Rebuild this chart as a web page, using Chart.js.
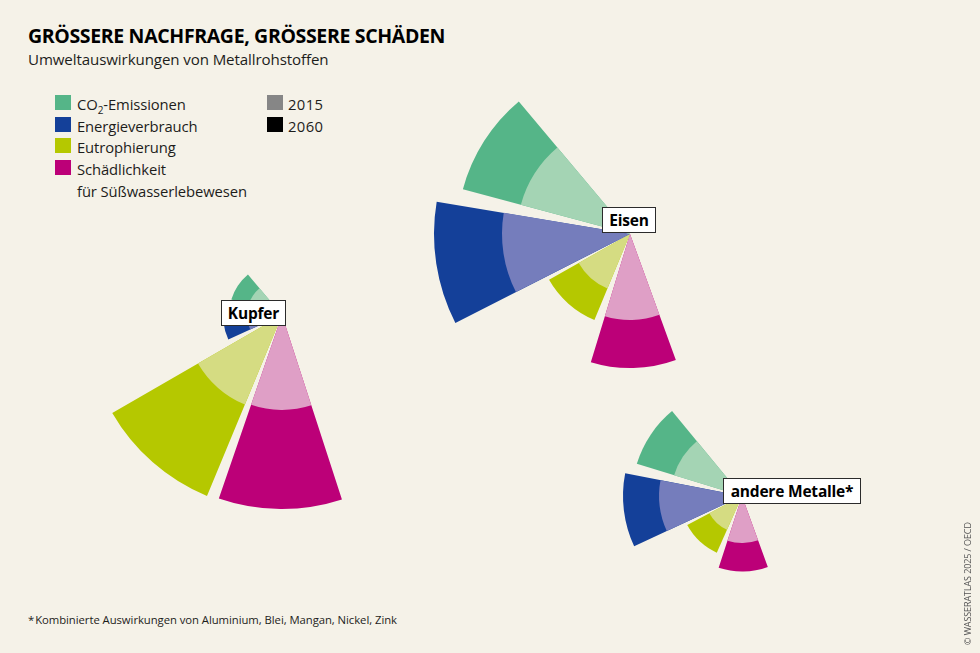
<!DOCTYPE html>
<html lang="de">
<head>
<meta charset="utf-8">
<title>Grössere Nachfrage, grössere Schäden</title>
<script src="https://cdn.jsdelivr.net/npm/chart.js@4"></script>
<style>
    html, body { margin: 0; padding: 0; background: #f5f2e8; }
    body { position: relative; width: 980px; height: 653px; overflow: hidden; font-family: 'Open Sans', sans-serif; color: #1d1d1b; }
    .abs { position: absolute; white-space: nowrap; }
    canvas { position: absolute; pointer-events: none; }
    #title { left: 28px; top: 22px; font-size: 19.5px; line-height: 28px; font-weight: 700; color: #000; letter-spacing: -0.35px; }
    #subtitle { left: 28px; top: 49px; font-size: 15.1px; line-height: 20px; letter-spacing: -0.1px; }
    .swatch { position: absolute; width: 16px; height: 15px; }
    .leg { font-size: 14.8px; line-height: 20px; letter-spacing: -0.1px; }
    .leg sub { font-size: 10px; line-height: 0; }
    .tag { position: absolute; box-sizing: border-box; height: 26px; line-height: 24px; background: #fff; border: 1.5px solid #2b2b2b; font-weight: 700; font-size: 15.5px; color: #000; text-align: center; white-space: nowrap; letter-spacing: -0.2px; }
    #note { left: 28px; top: 611px; font-size: 11.3px; line-height: 18px; letter-spacing: -0.05px; }
    #note span { margin-right: 1px; }
    #source { left: 962px; top: 645px; font-size: 9px; line-height: 12px; color: #555; transform-origin: 0 0; transform: rotate(-90deg); letter-spacing: -0.1px; }
</style>
</head>
<body>

<div class="abs" id="title">GRÖSSERE NACHFRAGE, GRÖSSERE SCHÄDEN</div>
<div class="abs" id="subtitle">Umweltauswirkungen von Metallrohstoffen</div>

<div class="swatch" style="left:55px;top:95px;background:#55b588"></div>
<div class="abs leg" style="left:77px;top:94px">CO<sub>2</sub>-Emissionen</div>
<div class="swatch" style="left:55px;top:117px;background:#144099"></div>
<div class="abs leg" style="left:77px;top:116px">Energieverbrauch</div>
<div class="swatch" style="left:55px;top:138px;background:#b5c800"></div>
<div class="abs leg" style="left:77px;top:137px">Eutrophierung</div>
<div class="swatch" style="left:55px;top:160px;background:#bc0078"></div>
<div class="abs leg" style="left:77px;top:159px">Schädlichkeit</div>
<div class="abs leg" style="left:77px;top:181px">für Süßwasserlebewesen</div>
<div class="swatch" style="left:267px;top:95px;background:#868686"></div>
<div class="abs leg" style="left:288px;top:94px;letter-spacing:0.4px">2015</div>
<div class="swatch" style="left:267px;top:117px;background:#000"></div>
<div class="abs leg" style="left:288px;top:116px;letter-spacing:0.4px">2060</div>

<div id="charts"></div>

<div class="tag" style="left:602px;top:207px;width:54px">Eisen</div>
<div class="tag" style="left:221px;top:300px;width:65px">Kupfer</div>
<div class="tag" style="left:723px;top:478px;width:138px">andere Metalle*</div>

<div class="abs" id="note"><span>*</span>Kombinierte Auswirkungen von Aluminium, Blei, Mangan, Nickel, Zink</div>
<div class="abs" id="source">© WASSERATLAS 2025 / OECD</div>

<script>
// order: CO2, Energie, Eutrophierung, Schaedlichkeit
const categories = ['CO₂-Emissionen', 'Energieverbrauch', 'Eutrophierung', 'Schädlichkeit für Süßwasserlebewesen'];

const eisen2015 = [113, 128, 59, 86];
const eisen2060 = [173, 196, 93, 134];

const kupfer2015 = [35, 35, 97, 95];
const kupfer2060 = [53, 59, 196, 194];

const andere2015 = [71, 83, 37, 47];
const andere2060 = [110, 119, 62, 75.5];

const colors2015 = ['#a4d4b4', '#757dbc', '#d5dc82', '#df9fc6'];
const colors2060 = ['#55b588', '#144099', '#b5c800', '#bc0078'];

// slice widths in degrees, clockwise from the magenta wedge: wedge, gap, wedge, gap ...
const eisenAngles = [37, 5.5, 38, 2.5, 36.5, 5.5, 35];
const kupferAngles = [37, 3.5, 37.5, 5.5, 36, 5.5, 33];
const andereAngles = [38, 6, 38, 3, 36, 6, 33.5];
const SCALE_MAX = 200; // same radial scale for all three fans

// polarArea runs clockwise, so walk the categories backwards and put an empty slice after each
function withGaps(values, gapValue) {
    const out = [];
    for (let i = values.length - 1; i >= 0; i--) {
        out.push(values[i], gapValue);
    }
    return out;
}

function drawFan(cx, cy, startAngle, angles, values2015, values2060) {
    const canvas = document.createElement('canvas');
    canvas.style.left = (cx - SCALE_MAX) + 'px';
    canvas.style.top = (cy - SCALE_MAX) + 'px';
    document.getElementById('charts').appendChild(canvas);
    canvas.width = SCALE_MAX * 2;
    canvas.height = SCALE_MAX * 2;

    // last slice is the empty rest of the circle
    const used = angles.reduce((a, b) => a + b, 0);
    const sliceAngles = angles.concat([360 - used]);

    new Chart(canvas, {
        type: 'polarArea',
        data: {
            labels: withGaps(categories, ''),
            datasets: [
                {
                    label: '2015',
                    data: withGaps(values2015, 0),
                    backgroundColor: withGaps(colors2015, 'rgba(0,0,0,0)'),
                    angle: sliceAngles,
                    borderWidth: 0
                },
                {
                    label: '2060',
                    data: withGaps(values2060, 0),
                    backgroundColor: withGaps(colors2060, 'rgba(0,0,0,0)'),
                    angle: sliceAngles,
                    borderWidth: 0
                }
            ]
        },
        options: {
            responsive: false,
            animation: false,
            layout: { padding: 0 },
            plugins: { legend: { display: false }, tooltip: { enabled: false } },
            scales: {
                r: {
                    display: false,
                    min: 0,
                    max: SCALE_MAX,
                    startAngle: startAngle
                }
            }
        }
    });
}

drawFan(630, 234, 160, eisenAngles, eisen2015, eisen2060);
drawFan(282, 315, 162, kupferAngles, kupfer2015, kupfer2060);
drawFan(742, 495.5, 160, andereAngles, andere2015, andere2060);
</script>
</body>
</html>
